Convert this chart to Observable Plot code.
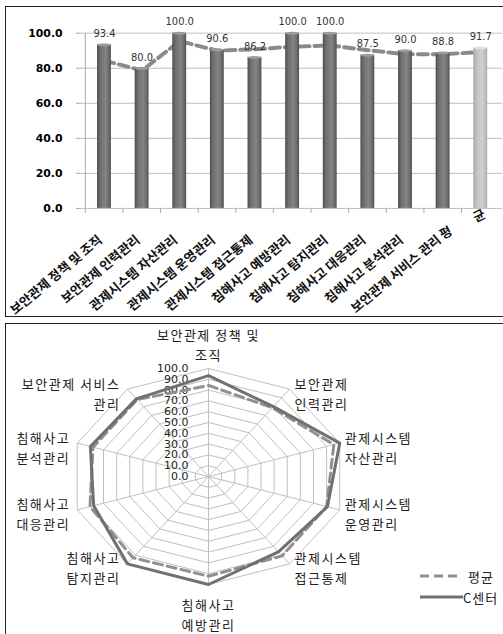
<!DOCTYPE html>
<html><head><meta charset="utf-8">
<script src="https://cdn.jsdelivr.net/npm/d3@7"></script>
<script src="https://cdn.jsdelivr.net/npm/@observablehq/plot@0.6"></script>
<style>
body{margin:0;background:#fff;}
#wrap{position:relative;width:503px;height:634px;overflow:hidden;background:#fff;}
.frame{position:absolute;border:1.5px solid #222;box-sizing:border-box;pointer-events:none;}
#top{position:absolute;left:0;top:0;}
#radar{position:absolute;left:0;top:324px;}
#radar g[font-family*="CJK"] text{letter-spacing:1.5px;}
#legend{position:absolute;left:0;top:0;width:503px;height:634px;font-family:"Noto Sans CJK KR";font-size:13px;color:#222;}
#legend .row{position:absolute;display:flex;align-items:center;height:14px;white-space:nowrap;}
#legend svg{display:block;flex:none;}
</style></head><body>
<div id="wrap">
  <div id="top"></div>
  <div id="radar"></div>
  <div class="frame" style="left:5px;top:6px;width:500px;height:311px"></div>
  <div class="frame" style="left:5px;top:323px;width:500px;height:320px"></div>
  <div id="legend">
    <div class="row" style="left:420px;top:569px"><svg width="40" height="8"><line x1="0" y1="4" x2="38" y2="4" stroke="#8f8f8f" stroke-width="3" stroke-dasharray="9,5"/></svg><span style="margin-left:8px;letter-spacing:1px">평균</span></div>
    <div class="row" style="left:420px;top:590px"><svg width="43" height="8"><line x1="0" y1="4" x2="43" y2="4" stroke="#707070" stroke-width="3"/></svg><span style="letter-spacing:1px">C센터</span></div>
  </div>
</div>
<script>
// ---- data ----
const categories = ["보안관제 정책 및 조직","보안관제 인력관리","관제시스템 자산관리","관제시스템 운영관리","관제시스템 접근통제","침해사고 예방관리","침해사고 탐지관리","침해사고 대응관리","침해사고 분석관리","보안관제 서비스 관리"];
const radarLabels = ["보안관제 정책 및\n조직","보안관제\n인력관리","관제시스템\n자산관리","관제시스템\n운영관리","관제시스템\n접근통제","침해사고\n예방관리","침해사고\n탐지관리","침해사고\n대응관리","침해사고\n분석관리","보안관제 서비스\n관리"];
const avgLabel = "평균";
const avgAxisLabel = "평\u3000\u3000균";
const centerScores = [93.4, 80.0, 100.0, 90.6, 86.2, 100.0, 100.0, 87.5, 90.0, 88.8];
const centerOverall = 91.7;
const avgScores = [84.3, 78.7, 95.5, 90.0, 90.8, 92.3, 93.0, 90.3, 88.0, 88.0];
const avgOverall = 89.2;
const yTicks = [0, 20, 40, 60, 80, 100];
const radarTicks = [0, 10, 20, 30, 40, 50, 60, 70, 80, 90, 100];

// ---- top bar chart ----
const xDomain = [...categories, avgLabel];
const barRows = xDomain.map((c, i) => ({cat: c, v: i < categories.length ? centerScores[i] : centerOverall, avg: i >= categories.length}));
const lineRows = xDomain.map((c, i) => ({cat: c, v: i < categories.length ? avgScores[i] : avgOverall}));
const step = 38.7;

const defs = () => {
  const d = d3.create("svg:defs");
  const g1 = d.append("linearGradient").attr("id", "gBar").attr("x1", 0).attr("x2", 1).attr("y1", 0).attr("y2", 0);
  [[0, "#4e4e4e"], [0.22, "#6e6e6e"], [0.6, "#848484"], [0.85, "#6c6c6c"], [1, "#4c4c4c"]]
    .forEach(([o, c]) => g1.append("stop").attr("offset", o).attr("stop-color", c));
  const g2 = d.append("linearGradient").attr("id", "gAvg").attr("x1", 0).attr("x2", 1).attr("y1", 0).attr("y2", 0);
  [[0, "#a9a9a9"], [0.25, "#c2c2c2"], [0.6, "#cfcfcf"], [0.85, "#c0c0c0"], [1, "#a6a6a6"]]
    .forEach(([o, c]) => g2.append("stop").attr("offset", o).attr("stop-color", c));
  return d.node();
};

const catFont = {textAnchor: "end", fontSize: 13, fontWeight: "bold", fontFamily: "Noto Sans CJK KR", fill: "#111"};

const topPlot = Plot.plot({
  width: 508, height: 317,
  marginLeft: 81.7, marginRight: 0.6, marginTop: 33, marginBottom: 107,
  x: {domain: xDomain, paddingInner: 0.64, paddingOuter: 0.32, axis: null},
  y: {domain: [0, 100], axis: null},
  style: {overflow: "visible", background: "transparent"},
  marks: [
    defs,
    Plot.ruleY(yTicks, {stroke: "#bdbdbd", strokeWidth: 1}),
    Plot.ruleX([xDomain[0]], {dx: -step / 2, y1: 0, y2: 100, stroke: "#a8a8a8"}),
    Plot.ruleX(xDomain, {dx: -step / 2, y1: 0, y2: -2.8, stroke: "#a8a8a8"}),
    Plot.axisY(yTicks, {label: null, tickSize: 5, tickPadding: 14, tickFormat: d => d.toFixed(1), fontSize: 11, fontWeight: "bold", fontFamily: "DejaVu Sans", stroke: "#a8a8a8", fill: "#000"}),
    Plot.line(lineRows, {x: "cat", y: "v", stroke: "#8a8a8a", strokeWidth: 4, strokeDasharray: "10,5"}),
    Plot.barY(barRows.filter(d => !d.avg), {x: "cat", y: "v", fill: "url(#gBar)"}),
    Plot.barY(barRows.filter(d => d.avg), {x: "cat", y: "v", fill: "url(#gAvg)"}),
    Plot.barY(barRows.filter(d => !d.avg), {x: "cat", y1: d => d.v - 1.2, y2: d => d.v + 0.5, fill: "#9c9c9c", rx: 7, ry: 2}),
    Plot.barY(barRows.filter(d => d.avg), {x: "cat", y1: d => d.v - 1.2, y2: d => d.v + 0.5, fill: "#e2e2e2", rx: 7, ry: 2}),
    Plot.text(barRows, {x: "cat", y: "v", text: d => d.v.toFixed(1), dy: -11, fontSize: 10, fontFamily: "DejaVu Sans", fill: "#333"}),
    Plot.text(categories, {x: d => d, y: 0, text: d => d, rotate: -40, dy: 30, dx: -4, ...catFont}),
    Plot.text([avgLabel], {x: d => d, y: 0, text: () => avgAxisLabel, rotate: -27, dx: 4, dy: 5, ...catFont})
  ]
});
document.getElementById("top").appendChild(topPlot);

// ---- radar chart ----
const N = categories.length;
const ang = i => 2 * Math.PI * i / N;
const px = (r, i) => r * Math.sin(ang(i));
const py = (r, i) => r * Math.cos(ang(i));
const ringRows = radarTicks.filter(t => t > 0).flatMap(t => d3.range(N + 1).map(i => ({t, x: px(t, i % N), y: py(t, i % N)})));
const spokeRows = categories.map((c, i) => ({x: px(100, i), y: py(100, i)}));
const seriesRows = vals => d3.range(N + 1).map(i => ({x: px(vals[i % N], i % N), y: py(vals[i % N], i % N)}));
const labelRows = radarLabels.map((l, i) => ({label: l, i, x: px(100, i), y: py(100, i)}));
const labelFont = {fontSize: 13, fontFamily: "Noto Sans CJK KR", fill: "#222", lineHeight: 1.55, lineAnchor: "middle"};

const radarPlot = Plot.plot({
  width: 503, height: 310, margin: 0,
  x: {domain: [-100, 100], range: [70, 346], axis: null},
  y: {domain: [-100, 100], range: [260, 44], axis: null},
  style: {overflow: "visible", background: "transparent"},
  marks: [
    Plot.line(ringRows, {x: "x", y: "y", z: "t", stroke: "#c0c0c0", strokeWidth: 1}),
    Plot.link(spokeRows, {x1: 0, y1: 0, x2: "x", y2: "y", stroke: "#c0c0c0", strokeWidth: 1}),
    Plot.text(radarTicks, {x: 0, y: d => d, text: d => d.toFixed(1), textAnchor: "end", dx: -20, fontSize: 11, fontFamily: "DejaVu Sans", fill: "#222"}),
    Plot.line(seriesRows(avgScores), {x: "x", y: "y", stroke: "#909090", strokeWidth: 3, strokeDasharray: "9,5"}),
    Plot.line(seriesRows(centerScores), {x: "x", y: "y", stroke: "#707070", strokeWidth: 3}),
    Plot.text(labelRows.filter(d => d.i === 0), {x: "x", y: "y", text: "label", dy: -25, ...labelFont}),
    Plot.text(labelRows.filter(d => d.i === N / 2), {x: "x", y: "y", text: "label", dy: 29, ...labelFont}),
    Plot.text(labelRows.filter(d => d.i > 0 && d.i < N / 2), {x: "x", y: "y", text: "label", textAnchor: "start", dx: 5, dy: 3, ...labelFont}),
    Plot.text(labelRows.filter(d => d.i > N / 2), {x: "x", y: "y", text: "label", textAnchor: "end", dx: -7, dy: 3, ...labelFont})
  ]
});
document.getElementById("radar").appendChild(radarPlot);
</script>
</body></html>
